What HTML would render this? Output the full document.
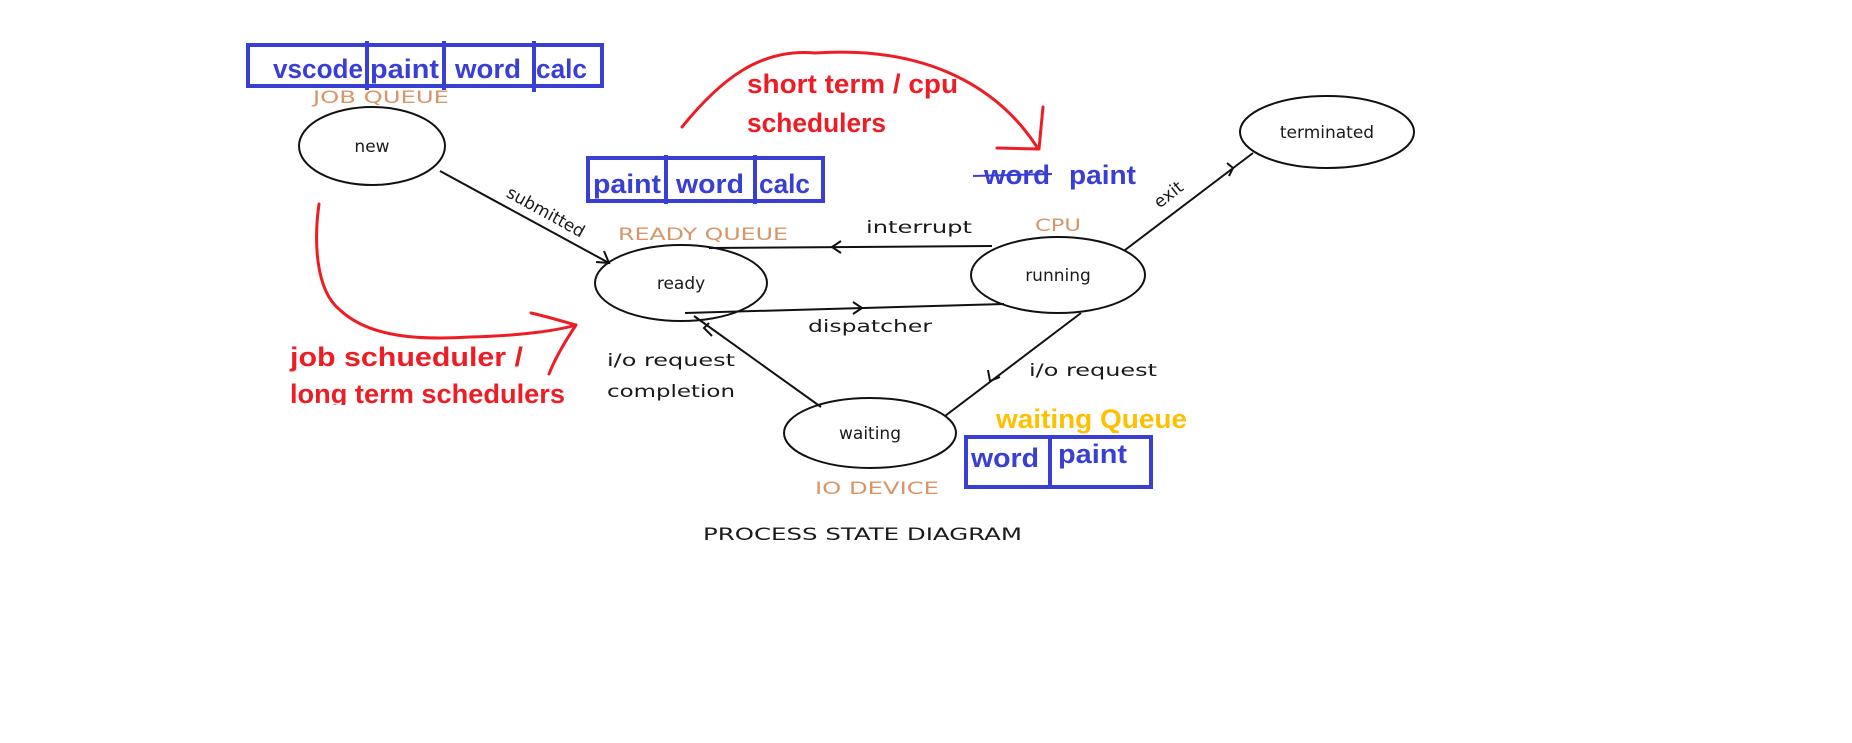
<!DOCTYPE html>
<html><head><meta charset="utf-8"><style>
html,body{margin:0;padding:0;background:#fff;}
svg{display:block;}
.d{font-family:"DejaVu Sans","Liberation Sans",sans-serif;font-size:17px;fill:#1a1a1a;}
.o{font-family:"DejaVu Sans","Liberation Sans",sans-serif;font-size:17px;fill:#d9956a;}
.b{font-family:"Liberation Sans Narrow","Liberation Sans",sans-serif;font-weight:bold;font-size:27px;fill:#3a3fd4;}
.r{font-family:"Liberation Sans Narrow","Liberation Sans",sans-serif;font-weight:bold;font-size:27px;fill:#ee1c24;}
.y{font-family:"Liberation Sans Narrow","Liberation Sans",sans-serif;font-weight:bold;font-size:27px;fill:#ffc000;}
</style></head><body>
<svg width="1852" height="743" viewBox="0 0 1852 743" xmlns="http://www.w3.org/2000/svg">
<defs><clipPath id="c"><rect x="0" y="0" width="1852" height="405"/></clipPath></defs>
<g fill="none" stroke="#111" stroke-width="2">
<ellipse cx="372" cy="146" rx="73" ry="39"/>
<ellipse cx="681" cy="283" rx="86" ry="38"/>
<ellipse cx="1058" cy="275" rx="87" ry="38"/>
<ellipse cx="870" cy="433" rx="86" ry="35"/>
<ellipse cx="1327" cy="132" rx="87" ry="36"/>
<line x1="440" y1="171" x2="609" y2="263"/>
<polyline points="596,262 609,263 604,251"/>
<line x1="992" y1="246" x2="709" y2="248"/>
<polyline points="841,241 832,247 841,253"/>
<line x1="685" y1="313" x2="1004" y2="304"/>
<polyline points="853,302 862,308 853,314"/>
<line x1="1125" y1="250" x2="1253" y2="153"/>
<polyline points="1227,163 1233,168 1229,176"/>
<line x1="1081" y1="313" x2="945" y2="416"/>
<polyline points="988,370 990,381 1000,377"/>
<line x1="821" y1="407" x2="694" y2="316"/>
<polyline points="709,323 704,328 712,336"/>
</g>
<text class="o" x="313" y="103" textLength="136" lengthAdjust="spacingAndGlyphs">JOB QUEUE</text>
<text class="o" x="618" y="240" textLength="170" lengthAdjust="spacingAndGlyphs">READY QUEUE</text>
<text class="o" x="1035" y="231" textLength="46" lengthAdjust="spacingAndGlyphs">CPU</text>
<text class="o" x="815" y="494" textLength="124" lengthAdjust="spacingAndGlyphs">IO DEVICE</text>
<text class="d" x="372" y="152" text-anchor="middle">new</text>
<text class="d" x="681" y="289" text-anchor="middle">ready</text>
<text class="d" x="1058" y="281" text-anchor="middle">running</text>
<text class="d" x="870" y="439" text-anchor="middle">waiting</text>
<text class="d" x="1327" y="138" text-anchor="middle">terminated</text>
<text class="d" x="866" y="233" textLength="106" lengthAdjust="spacingAndGlyphs">interrupt</text>
<text class="d" x="808" y="332" textLength="124" lengthAdjust="spacingAndGlyphs">dispatcher</text>
<text class="d" x="1029" y="376" textLength="128" lengthAdjust="spacingAndGlyphs">i/o request</text>
<text class="d" x="607" y="366" textLength="128" lengthAdjust="spacingAndGlyphs">i/o request</text>
<text class="d" x="607" y="397" textLength="128" lengthAdjust="spacingAndGlyphs">completion</text>
<text class="d" transform="translate(543,217) rotate(29)" text-anchor="middle">submitted</text>
<text class="d" transform="translate(1172,199) rotate(-38)" text-anchor="middle">exit</text>
<text class="d" x="703" y="540" textLength="319" lengthAdjust="spacingAndGlyphs">PROCESS STATE DIAGRAM</text>
<g fill="none" stroke="#3a3fd4" stroke-width="4">
<rect x="248" y="45" width="354" height="41"/>
<line x1="367" y1="41" x2="367" y2="90"/><line x1="444" y1="41" x2="444" y2="90"/><line x1="534" y1="41" x2="534" y2="92"/>
<rect x="588" y="158" width="235" height="43"/>
<line x1="666" y1="155" x2="666" y2="204"/><line x1="755" y1="155" x2="755" y2="204"/>
<rect x="966" y="437" width="185" height="50"/>
<line x1="1050" y1="437" x2="1050" y2="487"/>
</g>
<text class="b" x="273" y="78" textLength="90" lengthAdjust="spacingAndGlyphs">vscode</text>
<text class="b" x="370" y="78" textLength="69" lengthAdjust="spacingAndGlyphs">paint</text>
<text class="b" x="455" y="78" textLength="66" lengthAdjust="spacingAndGlyphs">word</text>
<text class="b" x="536" y="78" textLength="51" lengthAdjust="spacingAndGlyphs">calc</text>
<text class="b" x="593" y="193" textLength="68" lengthAdjust="spacingAndGlyphs">paint</text>
<text class="b" x="676" y="193" textLength="68" lengthAdjust="spacingAndGlyphs">word</text>
<text class="b" x="759" y="193" textLength="51" lengthAdjust="spacingAndGlyphs">calc</text>
<text class="b" x="984" y="184" textLength="66" lengthAdjust="spacingAndGlyphs">word</text>
<line x1="973" y1="176" x2="1052" y2="174" stroke="#3a3fd4" stroke-width="2"/>
<text class="b" x="1069" y="184" textLength="67" lengthAdjust="spacingAndGlyphs">paint</text>
<text class="b" x="971" y="467" textLength="68" lengthAdjust="spacingAndGlyphs">word</text>
<text class="b" x="1058" y="463" textLength="69" lengthAdjust="spacingAndGlyphs">paint</text>
<text class="y" x="996" y="428" textLength="191" lengthAdjust="spacingAndGlyphs">waiting Queue</text>
<text class="r" x="747" y="93" textLength="211" lengthAdjust="spacingAndGlyphs">short term / cpu</text>
<text class="r" x="747" y="132" textLength="139" lengthAdjust="spacingAndGlyphs">schedulers</text>
<g clip-path="url(#c)">
<text class="r" x="290" y="366" textLength="233" lengthAdjust="spacingAndGlyphs">job schueduler /</text>
<text class="r" x="290" y="403" textLength="275" lengthAdjust="spacingAndGlyphs">long term schedulers</text>
</g>
<g fill="none" stroke="#ee1c24" stroke-width="3" stroke-linecap="round" stroke-linejoin="round">
<path d="M682,127 C720,80 760,48 815,53 C930,45 1000,90 1037,147"/>
<path d="M1043,107 L1039,149 L997,148"/>
<path d="M319,204 C314,240 315,290 340,310 C370,338 420,340 470,337 C520,336 560,330 576,325"/>
<path d="M531,313 C545,316 565,322 576,325 C566,340 556,356 549,374"/>
</g>
</svg>
</body></html>
